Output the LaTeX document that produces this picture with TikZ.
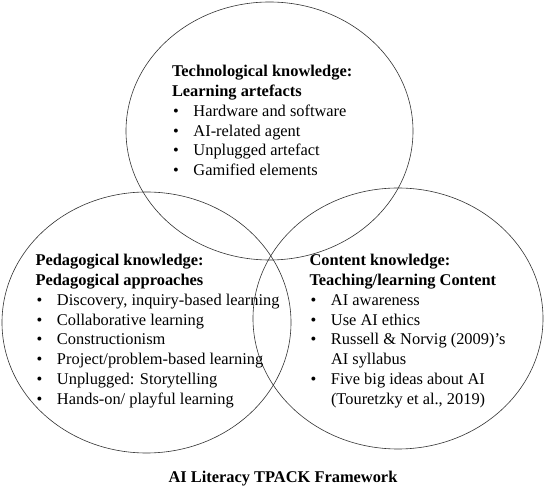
\documentclass[tikz,border=0pt]{standalone}
\usepackage{fontspec}
\setmainfont{Liberation Serif}
\usetikzlibrary{shapes.geometric}
\tikzset{
  ring/.style={draw=black!80, line width=0.6pt},
  block/.style={anchor=base west, inner sep=0pt, outer sep=0pt, font=\fontsize{16.4}{19.8}\selectfont},
  caption/.style={anchor=base, inner sep=0pt, font=\fontsize{16.4}{19.8}\selectfont\bfseries}
}
\newcommand{\bul}{\makebox[21.5pt][l]{\hspace{1pt}•}}
\begin{document}
\begin{tikzpicture}[x=1pt,y=-1pt]
\useasboundingbox (0,0) rectangle (544,486);
\fill[white] (0,0) rectangle (544,486);
\draw[ring] (269.5,131) ellipse [x radius=143.5, y radius=129];
\draw[ring] (146.5,322.5) ellipse [x radius=144.5, y radius=130.5];
\draw[ring] (398,318.5) ellipse [x radius=145, y radius=130.5];
\node[block] (tech) at (172,76.7) {\begin{tabular}[t]{@{}l@{}}
\textbf{Technological knowledge:}\\
\textbf{Learning artefacts}\\
\bul Hardware and software\\
\bul AI-related agent\\
\bul Unplugged artefact\\
\bul Gamified elements
\end{tabular}};
\node[block] (ped) at (35.5,265.7) {\begin{tabular}[t]{@{}l@{}}
\textbf{Pedagogical knowledge:}\\
\textbf{Pedagogical approaches}\\
\bul Discovery, inquiry-based learning\\
\bul Collaborative learning\\
\bul Constructionism\\
\bul Project/problem-based learning\\
\bul Unplugged: Storytelling\\
\bul Hands-on/ playful learning
\end{tabular}};
\node[block] (cont) at (309.5,265.7) {\begin{tabular}[t]{@{}l@{}}
\textbf{Content knowledge:}\\
\textbf{Teaching/learning Content}\\
\bul AI awareness\\
\bul Use AI ethics\\
\bul Russell \& Norvig (2009)’s\\
\hspace{21.5pt}AI syllabus\\
\bul Five big ideas about AI\\
\hspace{21.5pt}(Touretzky et al., 2019)
\end{tabular}};
\node[caption] (title) at (283,482.8) {AI Literacy TPACK Framework};
\end{tikzpicture}
\end{document}
